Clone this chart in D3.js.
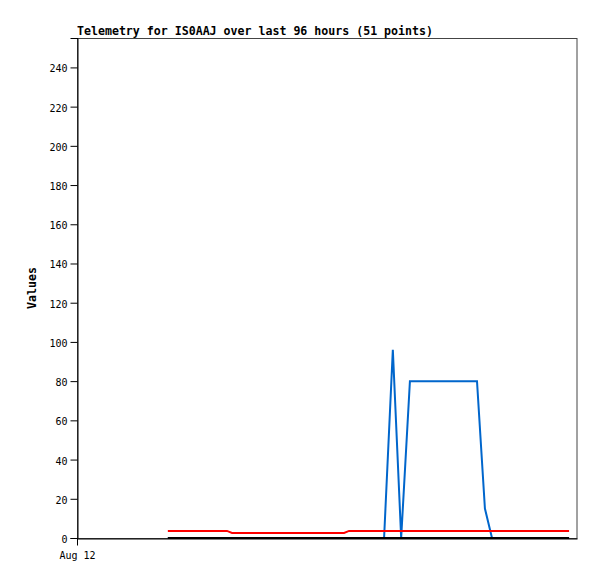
<!DOCTYPE html>
<html><head><meta charset="utf-8">
<script src="https://cdn.jsdelivr.net/npm/d3@7"></script>
<style>body{margin:0;background:#fff}svg{display:block}</style>
</head><body>
<script>
// Data: hours since Aug 12 00:00
const times = [21.8,23.7,25.6,27.6,29.5,31.4,33.4,36.0,37.2,39.1,41.0,43.0,44.9,46.8,48.7,50.6,52.6,54.5,56.4,58.3,60.3,62.2,64.1,65.3,67.9,69.9,71.8,73.7,75.8,77.8,79.9,81.9,83.9,85.9,87.9,89.9,91.9,94.0,96.0,97.9,99.6,101.5,103.3,105.2,107.0,108.9,110.7,112.6,114.4,116.3,118.1];
const seriesRed = [3.6,3.6,3.6,3.6,3.6,3.6,3.6,3.6,2.6,2.6,2.6,2.6,2.6,2.6,2.6,2.6,2.6,2.6,2.6,2.6,2.6,2.6,2.6,3.6,3.6,3.6,3.6,3.6,3.6,3.6,3.6,3.6,3.6,3.6,3.6,3.6,3.6,3.6,3.6,3.6,3.6,3.6,3.6,3.6,3.6,3.6,3.6,3.6,3.6,3.6,3.6];
const seriesBlack = times.map(() => 0);
const seriesBlue = [0,0,0,0,0,0,0,0,0,0,0,0,0,0,0,0,0,0,0,0,0,0,0,0,0,0,0,0,96,0,80,80,80,80,80,80,80,80,80,15,0,0,0,0,0,0,0,0,0,0,0];
const yTicks = [0,20,40,60,80,100,120,140,160,180,200,220,240];
const xTickValues = [0];
const xTickLabels = ["Aug 12"];
const title = "Telemetry for IS0AAJ over last 96 hours (51 points)";

const W = 597, H = 579;
const m = {left:77, top:38, right:20, bottom:41};
const svg = d3.select("body").append("svg").attr("width", W).attr("height", H);
const x = d3.scaleLinear().domain([0,120]).range([m.left, W - m.right]);
const y = d3.scaleLinear().domain([0,255]).range([H - m.bottom, m.top]);

// frame
svg.append("rect").attr("x", m.left+0.5).attr("y", m.top+0.5)
  .attr("width", W - m.right - m.left - 1 + 0.5).attr("height", H - m.bottom - m.top)
  .attr("fill","none").attr("stroke","#444").attr("stroke-width",1);

const mono = "'DejaVu Sans Mono', monospace";

const line = d3.line().x((d,i) => x(times[i])).y(d => y(d));
svg.append("path").datum(seriesBlue).attr("d", line).attr("fill","none").attr("stroke","#0066cc").attr("stroke-width",2);
svg.append("path").datum(seriesRed).attr("d", line).attr("fill","none").attr("stroke","#ff0000").attr("stroke-width",2);
svg.append("path").datum(seriesBlack).attr("d", line).attr("fill","none").attr("stroke","#000").attr("stroke-width",2);

// axes
const yAxis = d3.axisLeft(y).tickValues(yTicks).tickSize(7).tickPadding(3);
const gy = svg.append("g").attr("transform", `translate(${m.left+0.5},0)`).call(yAxis);
gy.select(".domain").attr("stroke","#000");
gy.selectAll("text").attr("font-family", mono).attr("font-size","10px").attr("fill","#000").attr("dy","0.45em");

const xAxis = d3.axisBottom(x).tickValues(xTickValues).tickFormat((d,i) => xTickLabels[i]).tickSize(7).tickPadding(6).tickSizeOuter(0);
const gx = svg.append("g").attr("transform", `translate(0,${H - m.bottom + 0.5})`).call(xAxis);
gx.select(".domain").attr("stroke","#000");
gx.selectAll("text").attr("font-family", mono).attr("font-size","10px").attr("fill","#000");

svg.append("text").attr("x", m.left).attr("y", 35).attr("font-family", mono)
  .attr("font-weight","bold").attr("font-size","11.6px").text(title);

svg.append("text").attr("transform", `translate(36,${(m.top + H - m.bottom)/2}) rotate(-90)`)
  .attr("text-anchor","middle").attr("font-family", mono).attr("font-weight","bold")
  .attr("font-size","11.6px").text("Values");
</script>
</body></html>
